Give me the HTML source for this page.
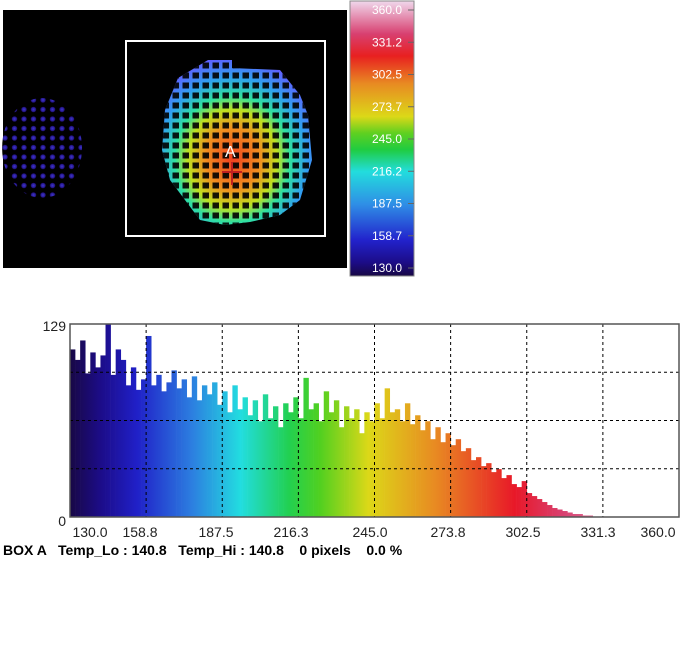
<!DOCTYPE html>
<html><head><meta charset="utf-8"><style>
html,body{margin:0;padding:0;background:#fff;width:690px;height:648px;overflow:hidden;font-family:"Liberation Sans",Arial,sans-serif;}
svg{position:absolute;left:0;top:0;}
</style></head><body>
<svg id="chart" width="690" height="648" viewBox="0 0 690 648">
<defs>
<linearGradient id="rainbowX" gradientUnits="userSpaceOnUse" x1="70" y1="0" x2="679" y2="0">
<stop offset="0" stop-color="#180845"/><stop offset="0.05" stop-color="#1c0c88"/><stop offset="0.11" stop-color="#2020c8"/>
<stop offset="0.2" stop-color="#2c7ee0"/><stop offset="0.28" stop-color="#22dde0"/><stop offset="0.36" stop-color="#22d050"/>
<stop offset="0.41" stop-color="#50d020"/><stop offset="0.49" stop-color="#dcd818"/><stop offset="0.6" stop-color="#e88a22"/>
<stop offset="0.73" stop-color="#e81828"/><stop offset="0.81" stop-color="#d84070"/><stop offset="1" stop-color="#f0d8ec"/>
</linearGradient>
<linearGradient id="rainbowY" x1="0" y1="1" x2="0" y2="0">
<stop offset="0" stop-color="#180845"/><stop offset="0.05" stop-color="#1c0c88"/><stop offset="0.13" stop-color="#2222cc"/>
<stop offset="0.26" stop-color="#2f8ee6"/><stop offset="0.38" stop-color="#22dddd"/><stop offset="0.46" stop-color="#20cc40"/>
<stop offset="0.52" stop-color="#60d020"/><stop offset="0.58" stop-color="#dcd818"/><stop offset="0.7" stop-color="#e88a22"/>
<stop offset="0.8" stop-color="#e82020"/><stop offset="0.88" stop-color="#d84070"/><stop offset="1" stop-color="#f0d8ec"/>
</linearGradient>
<radialGradient id="blobGrad" cx="0.47" cy="0.6" r="0.62">
<stop offset="0" stop-color="#f04020"/><stop offset="0.3" stop-color="#f09020"/><stop offset="0.48" stop-color="#c0e020"/>
<stop offset="0.62" stop-color="#30e0a0"/><stop offset="0.8" stop-color="#30a0f0"/><stop offset="1" stop-color="#6060ff"/>
</radialGradient>
<radialGradient id="leftGrad" cx="0.5" cy="0.5" r="0.5">
<stop offset="0" stop-color="#4a40f0"/><stop offset="0.7" stop-color="#3020b0"/><stop offset="1" stop-color="#1a0860"/>
</radialGradient>
<pattern id="holes" x="0" y="0" width="10" height="10" patternUnits="userSpaceOnUse">
<rect x="2.5" y="2.5" width="6.5" height="6" fill="#000"/>
</pattern>
<pattern id="dots" x="0" y="0" width="9.5" height="9.5" patternUnits="userSpaceOnUse">
<rect x="0" y="0" width="9.5" height="9.5" fill="#000"/><circle cx="5" cy="5" r="2.8" fill="url(#leftGrad)"/>
</pattern>
</defs>
<rect x="3" y="10" width="344" height="258" fill="#000"/>
<g>
<ellipse cx="42" cy="148" rx="40" ry="50" fill="url(#dots)" opacity="0.85"/>
</g>
<g>
<path d="M208 60 L232 60 L232 68 L280 70 L292 85 L300 95 L308 115 L312 160 L300 200 L280 215 L250 222 L225 225 L200 220 L185 200 L170 180 L162 150 L165 110 L178 78 Z" fill="url(#blobGrad)"/>
<path d="M208 60 L232 60 L232 68 L280 70 L292 85 L300 95 L308 115 L312 160 L300 200 L280 215 L250 222 L225 225 L200 220 L185 200 L170 180 L162 150 L165 110 L178 78 Z" fill="url(#holes)" opacity="0.9"/>
<text x="225" y="157" fill="#fff" font-size="16" font-family="Liberation Sans, sans-serif">A</text>
<line x1="232" y1="162" x2="232" y2="185" stroke="#c02020" stroke-width="2"/>
<line x1="222" y1="172" x2="242" y2="172" stroke="#c02020" stroke-width="2"/>
</g>
<rect x="126" y="41" width="199" height="195" fill="none" stroke="#fff" stroke-width="2"/>
<g>
<rect x="350" y="1" width="64" height="275" fill="url(#rainbowY)" stroke="#888" stroke-width="1"/>
<g id="cbLabels" font-size="12" fill="#fff" font-family="Liberation Sans, sans-serif" text-anchor="end"></g>
</g>
<g id="hist"></g>
<text x="3" y="555" font-size="14" font-weight="bold" fill="#000" xml:space="preserve">BOX A   Temp_Lo : 140.8   Temp_Hi : 140.8    0 pixels    0.0 %</text>
</svg>
<script>
const cbTicks=["360.0","331.2","302.5","273.7","245.0","216.2","187.5","158.7","130.0"];
const xTicks=["130.0","158.8","187.5","216.3","245.0","273.8","302.5","331.3","360.0"];
const yMax=129;
const tMin=130, tMax=360;
const counts=[112,105,118,96,110,100,108,129,95,112,105,88,100,85,92,121,88,95,84,90,98,86,92,80,94,78,88,82,90,75,84,70,88,72,80,68,78,64,82,66,74,60,76,70,80,66,93,72,76,64,84,70,78,60,74,66,72,56,70,64,76,66,86,70,72,64,76,62,68,58,64,52,60,50,56,48,52,44,46,38,40,34,36,30,32,26,28,22,20,24,16,14,12,10,8,6,5,4,3,2,2,1,1,0,0,0,0,0,0,0,0,0,0,0,0,0,0,0,0,0];
const NS="http://www.w3.org/2000/svg";
const PL=70,PR=679,PT=324,PB=517;
const xs=t=>PL+(t-tMin)/(tMax-tMin)*(PR-PL);
const ys=v=>PB-v/yMax*(PB-PT);
const svg=document.getElementById('chart');
const cb=document.getElementById('cbLabels');
cbTicks.forEach((l,i)=>{
 const y=10+i*(268-10)/(cbTicks.length-1);
 const t=document.createElementNS(NS,'text');
 t.setAttribute('x',402);t.setAttribute('y',y+4);t.textContent=l;
 
 
 cb.appendChild(t);
 const tk=document.createElementNS(NS,'line');
 tk.setAttribute('x1',408);tk.setAttribute('x2',414);tk.setAttribute('y1',y);tk.setAttribute('y2',y);tk.setAttribute('stroke','#666');
 cb.appendChild(tk);
});
const h=document.getElementById('hist');
function el(tag,attrs){const e=document.createElementNS(NS,tag);for(const k in attrs)e.setAttribute(k,attrs[k]);h.appendChild(e);return e;}
const n=counts.length, bw=(tMax-tMin)/n;
counts.forEach((c,i)=>{
 if(c<=0)return;
 const x0=xs(tMin+i*bw), x1=xs(tMin+(i+1)*bw);
 const r=el('rect',{x:x0,y:ys(c),width:x1-x0+0.3,height:PB-ys(c),fill:'url(#rainbowX)'});
 
 
});
for(let i=1;i<8;i++){
 const x=PL+i*(PR-PL)/8;
 const g=el('line',{x1:x,x2:x,y1:PT,y2:PB,stroke:'#000','stroke-dasharray':'3,3','stroke-width':1});
 
 
}
for(let i=1;i<4;i++){
 const y=PT+i*(PB-PT)/4;
 const g=el('line',{x1:PL,x2:PR,y1:y,y2:y,stroke:'#000','stroke-dasharray':'3,3','stroke-width':1});
 
 
}
const fr=el('rect',{x:PL,y:PT,width:PR-PL,height:PB-PT,fill:'none',stroke:'#555','stroke-width':1.5});


const xpos=[90,140,216,291,370,448,523,598,658];
xTicks.forEach((l,i)=>{
 const t=el('text',{x:xpos[i],y:537,'font-size':14,'text-anchor':'middle',fill:'#222'});
 t.textContent=l;
 
 
});
const y1=el('text',{x:66,y:331,'font-size':14,'text-anchor':'end',fill:'#222'});y1.textContent=String(yMax);


const y0=el('text',{x:66,y:526,'font-size':14,'text-anchor':'end',fill:'#222'});y0.textContent='0';


</script>
</body></html>
